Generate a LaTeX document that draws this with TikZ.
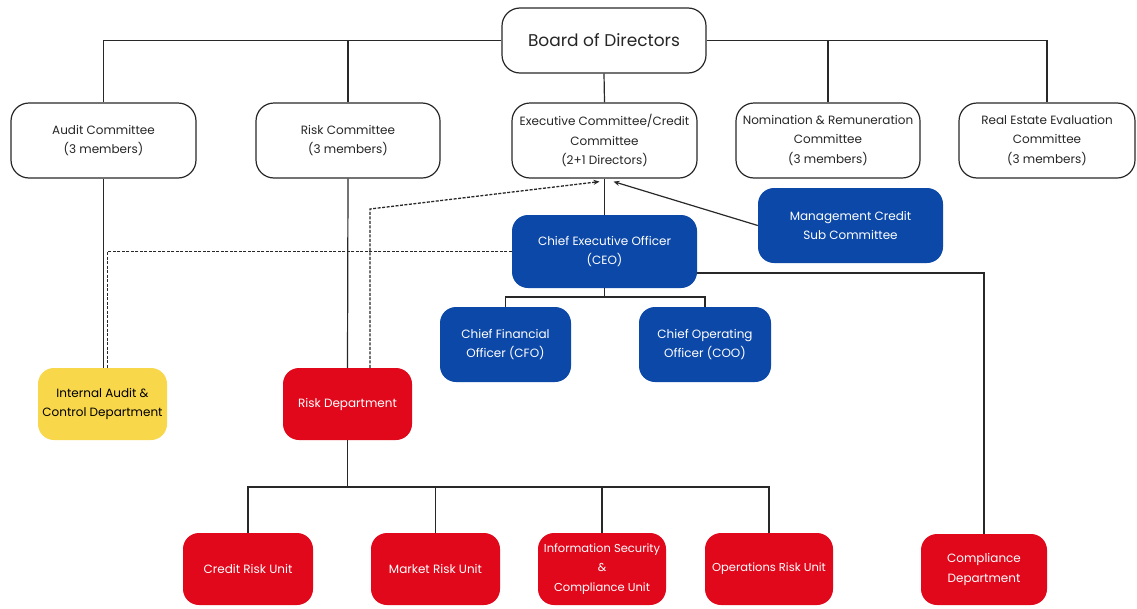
\documentclass[tikz,border=0pt]{standalone}
\usepackage{fontspec}
\setmainfont{Poppins}
\usetikzlibrary{arrows.meta}
\definecolor{cblue}{RGB}{12,72,168}
\definecolor{cred}{RGB}{226,8,28}
\definecolor{cyel}{RGB}{249,215,75}
\definecolor{cline}{RGB}{40,40,40}
\begin{document}
\begin{tikzpicture}[x=1pt,y=-1pt,
  basebox/.style={align=center, inner sep=0pt, font=\fontsize{12}{19.5}\selectfont},
  wbox/.style={basebox, draw=cline, line width=1.2pt, rounded corners=18pt, fill=white, text=black!85},
  bbox/.style={basebox, fill=cblue, rounded corners=16pt, text=white},
  rbox/.style={basebox, fill=cred, rounded corners=16pt, text=white},
  ybox/.style={basebox, fill=cyel, rounded corners=16pt, text=black},
  conn/.style={draw=cline, line width=1.2pt},
  dconn/.style={draw=cline, line width=1.3pt, dash pattern=on 3pt off 1.5pt},
  tip/.style={-{Stealth[length=6pt,width=5pt]}}]
\useasboundingbox (0,0) rectangle (1137,608);
\fill[white] (0,0) rectangle (1137,608);

% top level
\node[wbox, minimum width=204pt, minimum height=65pt, font=\fontsize{17}{20}\selectfont] (board) at (604,40.5) {Board of Directors};

% committees
\node[wbox, minimum width=185pt, minimum height=75pt] (audit) at (103.5,140.5) {Audit Committee\\(3 members)};
\node[wbox, minimum width=184pt, minimum height=75pt] (riskc) at (348,140.5) {Risk Committee\\(3 members)};
\node[wbox, minimum width=185pt, minimum height=75pt] (exec) at (604.5,140.5) {Executive Committee/Credit\\Committee\\(2+1 Directors)};
\node[wbox, minimum width=184pt, minimum height=75pt] (nom) at (828,140.5) {Nomination \& Remuneration\\Committee\\(3 members)};
\node[wbox, minimum width=176pt, minimum height=75pt] (real) at (1047,140.5) {Real Estate Evaluation\\Committee\\(3 members)};

% executives
\node[bbox, minimum width=185pt, minimum height=73pt] (ceo) at (604.5,251.5) {Chief Executive Officer\\(CEO)};
\node[bbox, minimum width=185pt, minimum height=75pt] (mcsc) at (850.5,225.5) {Management Credit\\Sub Committee};
\node[bbox, minimum width=131pt, minimum height=75pt] (cfo) at (505.5,344.5) {Chief Financial\\Officer (CFO)};
\node[bbox, minimum width=132pt, minimum height=75pt] (coo) at (705,344.5) {Chief Operating\\Officer (COO)};

% departments
\node[ybox, minimum width=129pt, minimum height=72pt] (iad) at (102.5,404) {Internal Audit \&\\Control Department};
\node[rbox, minimum width=129pt, minimum height=72pt] (riskd) at (347.5,404) {Risk Department};
\node[rbox, minimum width=126pt, minimum height=71pt] (comp) at (984,569.5) {Compliance\\Department};

% units
\node[rbox, minimum width=130pt, minimum height=72pt] (credit) at (248,569) {Credit Risk Unit};
\node[rbox, minimum width=129pt, minimum height=72pt] (market) at (435.5,569) {Market Risk Unit};
\node[rbox, minimum width=128pt, minimum height=72pt, font=\fontsize{11.5}{19.5}\selectfont] (info) at (602,569) {Information Security\\\&\\Compliance Unit};
\node[rbox, minimum width=128pt, minimum height=72pt, font=\fontsize{11.5}{19.5}\selectfont] (ops) at (769,569) {Operations Risk Unit};

% connectors from board
\draw[conn] (audit.north) |- (board.west);
\draw[conn] (riskc.north) |- (board.west);
\draw[conn] (nom.north) |- (board.east);
\draw[conn] (real.north) |- (board.east);
\draw[conn] (board.south) -- (exec.north);

% committee to departments
\draw[conn] (audit.south) -- (audit.south |- iad.north);
\draw[conn] (riskc.south) -- (riskd.north);
\draw[conn] (exec.south) -- (ceo.north);

% dashed reporting lines
\draw[dconn] (ceo.west) -| ([xshift=5pt]iad.north);
\coordinate (rdbend) at (370,209);
\draw[dconn, tip] ([xshift=22.5pt]riskd.north) -- (rdbend) -- ([xshift=-5pt,yshift=-3pt]exec.south);
\draw[conn, tip] (mcsc.west) -- ([xshift=9pt,yshift=-3pt]exec.south);

% CEO to CFO/COO
\coordinate (ceob) at (604.5,297);
\draw[conn] (ceo.south) -- (ceob);
\draw[conn] (ceob) -| (cfo.north);
\draw[conn] (ceob) -| (coo.north);

% CEO to compliance
\draw[conn] ([yshift=-21.5pt]ceo.east) -| (comp.north);

% risk department to units
\coordinate (rdb) at (347.5,487);
\draw[conn] (riskd.south) -- (rdb);
\draw[conn] (rdb) -| (credit.north);
\draw[conn] (rdb) -| (market.north);
\draw[conn] (rdb) -| (info.north);
\draw[conn] (rdb) -| (ops.north);
\end{tikzpicture}
\end{document}
